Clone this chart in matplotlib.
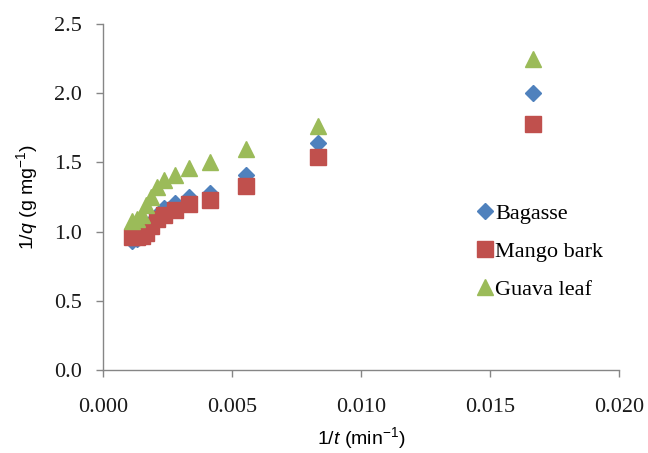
import matplotlib
matplotlib.use("Agg")
import matplotlib.pyplot as plt
from matplotlib.ticker import FormatStrFormatter

# Data
inv_t = [1/60, 1/120, 1/180, 1/240, 1/300, 1/360, 1/420, 1/480, 1/540, 1/600, 1/660, 1/750, 1/900]
bagasse = [2.00, 1.64, 1.41, 1.28, 1.25, 1.21, 1.17, 1.12, 1.07, 1.01, 0.97, 0.95, 0.93]
mango = [1.78, 1.54, 1.33, 1.23, 1.20, 1.16, 1.12, 1.09, 1.04, 0.99, 0.97, 0.96, 0.96]
guava = [2.25, 1.76, 1.60, 1.50, 1.46, 1.41, 1.37, 1.32, 1.25, 1.19, 1.12, 1.09, 1.08]
labels = ["Bagasse", "Mango bark", "Guava leaf"]
xticks = [0.000, 0.005, 0.010, 0.015, 0.020]
yticks = [0.0, 0.5, 1.0, 1.5, 2.0, 2.5]

plt.rcParams['mathtext.fontset'] = 'custom'
plt.rcParams['mathtext.rm'] = 'Liberation Sans'
plt.rcParams['mathtext.it'] = 'Liberation Sans:italic'

fig = plt.figure(figsize=(6.48, 4.53), dpi=100)
ax = fig.add_axes([0.159, 0.183, 0.796, 0.764])

ax.plot(inv_t, bagasse, linestyle='none', marker='D', markersize=8.2,
        color='#4F81BD', label=labels[0])
ax.plot(inv_t, mango, linestyle='none', marker='s', markersize=11,
        color='#C0504D', label=labels[1])
ax.plot(inv_t, guava, linestyle='none', marker='^', markersize=12,
        color='#9BBB59', label=labels[2])

ax.set_xlim(0, 0.020)
ax.set_ylim(0, 2.5)
ax.set_xticks(xticks)
ax.set_yticks(yticks)
ax.xaxis.set_major_formatter(FormatStrFormatter('%.3f'))
ax.yaxis.set_major_formatter(FormatStrFormatter('%.1f'))

for s in ['top', 'right']:
    ax.spines[s].set_visible(False)
for s in ['left', 'bottom']:
    ax.spines[s].set_color('#868686')
    ax.spines[s].set_linewidth(1.0)
ax.tick_params(axis='both', direction='out', length=5, width=1.0, color='#868686',
               labelsize=16)
ax.tick_params(axis='x', pad=15)
ax.tick_params(axis='y', pad=10)
for lab in ax.get_xticklabels() + ax.get_yticklabels():
    lab.set_fontfamily('Liberation Serif')
    lab.set_color('#1a1a1a')

ax.set_xlabel(r'1/$t$ (min$^{-1}$)', fontsize=14, family='Liberation Sans', labelpad=6)
ax.set_ylabel(r'1/$q$ (g mg$^{-1}$)', fontsize=14, family='Liberation Sans', labelpad=10)

leg = ax.legend(frameon=False, loc='upper left', bbox_to_anchor=(0.702, 0.515),
                borderpad=0, handlelength=0.8, handletextpad=0.05, labelspacing=0.8,
                prop={'family': 'Liberation Serif', 'size': 16})

fig.savefig('out.png', dpi=100)
